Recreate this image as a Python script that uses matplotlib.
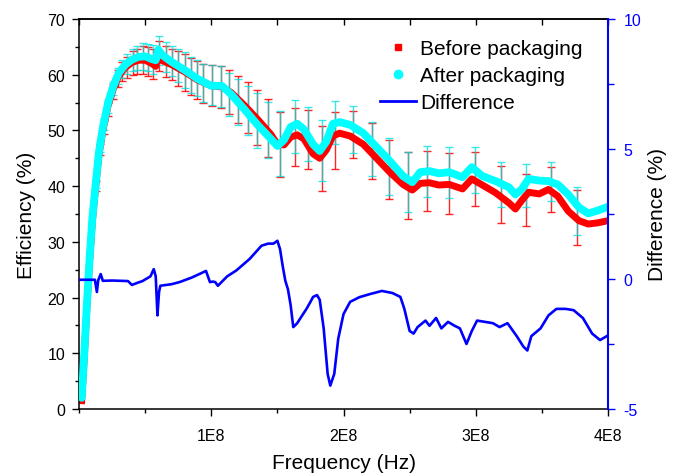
import numpy as np
import matplotlib
matplotlib.use('Agg')
import matplotlib.pyplot as plt
from matplotlib.lines import Line2D
from matplotlib.ticker import MultipleLocator

plt.rcParams['font.family'] = ['Liberation Sans', 'DejaVu Sans']
plt.rcParams['axes.unicode_minus'] = False

# efficiency curves, frequency in MHz
freq_mhz = [2, 4, 6, 8, 10, 12, 15, 18, 22, 26, 30, 35, 40, 45, 50, 55, 58, 60, 63, 70,
            80, 90, 100, 108, 115, 125, 135, 145, 150, 155, 160, 165, 170, 177, 182, 187,
            192, 197, 205, 215, 225, 235, 245, 252, 258, 265, 272, 280, 290, 297, 305,
            315, 325, 330, 335, 340, 348, 355, 362, 370, 378, 385, 392, 400]
eff_before = [1.5, 9.5, 18.5, 26.5, 33.5, 38.5, 45.5, 50.0, 54.5, 57.5, 59.8, 61.3, 62.2, 62.6,
              62.6, 62.0, 61.5, 63.5, 62.5, 61.8, 60.5, 59.0, 58.0, 57.8, 56.8, 54.5, 52.0,
              49.3, 47.5, 47.4, 48.8, 49.2, 48.5, 45.8, 45.0, 46.5, 49.0, 49.5, 49.0, 47.5,
              45.0, 42.5, 40.3, 39.3, 40.5, 40.6, 40.2, 40.3, 39.5, 41.3, 40.2, 38.8, 37.0,
              35.9, 37.5, 38.9, 38.6, 39.4, 38.2, 35.5, 33.8, 33.2, 33.4, 33.8]
eff_after = [2.0, 10.0, 19.0, 27.0, 34.0, 39.0, 46.0, 50.5, 55.0, 58.0, 60.3, 61.8, 62.7, 63.2,
             63.3, 62.8, 62.6, 64.5, 63.5, 62.3, 60.8, 59.2, 58.0, 58.0, 56.5, 53.8, 51.0,
             48.5, 47.2, 48.3, 50.6, 51.2, 50.2, 47.5, 46.3, 48.0, 51.2, 51.5, 51.0, 49.5,
             47.0, 44.5, 41.8, 40.7, 42.5, 42.7, 42.3, 42.5, 41.6, 43.4, 41.8, 40.9, 39.8,
             38.5, 39.5, 41.3, 41.0, 40.9, 40.3, 38.5, 36.2, 35.1, 35.6, 36.3]

# error bars (MHz, centre, half width)
bar_freq = [13, 16, 19, 22, 26, 29.5, 32.5, 36, 41, 44, 48, 52, 56, 60.5, 66, 70, 75, 80, 85,
            89, 94, 100.6, 107.4, 113.4, 120.2, 127.8, 134.6, 142.9, 152, 163.3, 173.2,
            183.7, 193.6, 207.2, 221.6, 234.4, 248.8, 263.2, 279.8, 299.4, 319.1, 338,
            356.9, 376.6]
bar_after_mid = [40.5, 47.0, 51.0, 54.3, 57.5, 59.8, 61.0, 61.9, 62.7, 63.0, 63.3, 63.1, 62.7,
                 64.3, 63.2, 62.4, 61.6, 60.8, 60.0, 59.4, 58.5, 58.15, 57.9, 56.45, 55.1,
                 53.6, 51.75, 50.05, 47.65, 50.75, 49.35, 46.4, 51.45, 50.2, 46.65, 43.5,
                 40.75, 42.65, 42.45, 42.9, 40.3, 40.15, 40.8, 35.5]
bar_after_err = [0.8, 0.9, 1.0, 1.1, 1.2, 1.4, 1.6, 1.8, 2.0, 2.2, 2.4, 2.5, 2.6, 2.6, 2.7,
                 2.7, 3.0, 3.2, 3.2, 3.3, 3.4, 3.55, 3.7, 3.85, 4.1, 4.4, 4.95, 5.05, 5.85,
                 4.75, 4.85, 5.5, 3.85, 4.2, 4.85, 5.1, 5.35, 4.55, 4.55, 4.1, 4.0, 3.85,
                 3.5, 4.3]
bar_before_mid = [40.0, 46.5, 50.5, 53.8, 57.0, 59.3, 60.5, 61.3, 62.1, 62.4, 62.6, 62.4, 61.9,
                  63.3, 62.4, 61.8, 61.1, 60.4, 59.7, 59.0, 58.4, 58.0, 57.8, 56.9, 55.6,
                  54.1, 52.3, 50.5, 47.5, 48.8, 48.4, 44.95, 48.2, 49.25, 46.3, 43.0, 40.1,
                  40.9, 40.5, 41.25, 38.5, 37.5, 39.4, 34.35]
bar_before_err = [0.9, 1.0, 1.1, 1.2, 1.4, 1.5, 1.7, 1.9, 2.1, 2.3, 2.5, 2.6, 2.7, 2.7, 2.8,
                  2.8, 3.1, 3.3, 3.3, 3.4, 3.5, 3.7, 3.8, 4.0, 4.2, 4.5, 5.0, 5.2, 5.8, 5.2,
                  5.3, 5.85, 5.1, 4.25, 5.0, 5.3, 6.0, 5.4, 5.5, 4.85, 5.1, 4.7, 4.0, 4.95]

# difference curve (right axis)
diff_freq = [1, 12, 13.5, 14.5, 16.4, 18, 25, 37, 40, 44, 48, 54, 56.5, 58, 59.3, 60.5, 61.5,
             70, 76, 85, 91, 96, 99, 101, 103, 105, 112, 119, 129, 138, 143, 147, 150, 152,
             154, 156, 158, 160, 162, 165, 168, 172, 175, 177, 180, 182, 185, 188, 190, 193,
             196, 200, 205, 212, 220, 229, 237, 243, 246, 250, 253, 256, 262, 265, 270, 274,
             279, 284, 288, 293, 297, 301, 313, 318, 324, 331, 336, 339, 342, 349, 355, 361,
             368, 374, 381, 388, 394, 399]
diff_val = [-0.03, -0.03, -0.5, -0.05, 0.19, -0.07, -0.06, -0.08, -0.23, -0.15, -0.08, 0.1,
            0.38, 0.1, -1.4, -0.5, -0.26, -0.2, -0.12, 0.05, 0.19, 0.31, -0.12, -0.1, -0.12,
            -0.26, 0.1, 0.33, 0.77, 1.28, 1.36, 1.36, 1.47, 1.15, 0.5, -0.07, -0.4, -1.0,
            -1.85, -1.7, -1.46, -1.15, -0.88, -0.69, -0.62, -0.8, -1.9, -3.65, -4.1, -3.65,
            -2.3, -1.35, -0.88, -0.7, -0.58, -0.46, -0.54, -0.69, -1.15, -2.0, -2.1, -1.85,
            -1.6, -1.8, -1.5, -1.9, -1.65, -1.8, -1.9, -2.5, -2.0, -1.6, -1.7, -1.85, -1.7,
            -2.2, -2.6, -2.75, -2.2, -1.9, -1.4, -1.15, -1.15, -1.2, -1.5, -2.1, -2.35, -2.2]

f = np.array(freq_mhz) * 1e6
fb = np.array(bar_freq) * 1e6
fd = np.array(diff_freq) * 1e6

fig = plt.figure(figsize=(6.86, 4.77), dpi=100)
ax = fig.add_axes([0.1152, 0.1405, 0.7711, 0.8176])

# error bars under the curves
ax.errorbar(fb, bar_before_mid, yerr=bar_before_err, fmt='none', ecolor='#ff0000',
            elinewidth=1.0, capsize=3.2, capthick=1.0, alpha=0.85, zorder=1)
ax.errorbar(fb, bar_after_mid, yerr=bar_after_err, fmt='none', ecolor='#00e0e0',
            elinewidth=1.0, capsize=3.2, capthick=1.0, alpha=0.75, zorder=1.5)
ax.plot(f, eff_before, color='#ff0000', lw=5.0, solid_joinstyle='round', zorder=2)
ax.plot(f, eff_after, color='#00ffff', lw=5.6, solid_joinstyle='round',
        solid_capstyle='round', zorder=3)

ax.set_xlim(0, 4e8)
ax.set_ylim(0, 70)
ax.set_xticks([1e8, 2e8, 3e8, 4e8])
ax.set_xticklabels(['1E8', '2E8', '3E8', '4E8'])
ax.xaxis.set_minor_locator(MultipleLocator(0.5e8))
ax.yaxis.set_major_locator(MultipleLocator(10))
ax.yaxis.set_minor_locator(MultipleLocator(5))
ax.tick_params(axis='both', which='major', direction='out', length=5, width=1,
               labelsize=11.5)
ax.tick_params(axis='x', which='major', pad=9)
ax.tick_params(axis='y', which='major', pad=5)
ax.tick_params(axis='both', which='minor', direction='out', length=3, width=1)
for s in ['left', 'bottom', 'top']:
    ax.spines[s].set_linewidth(1.1)
ax.spines['right'].set_visible(False)
ax.set_xlabel('Frequency (Hz)', fontsize=15, labelpad=7)
ax.set_ylabel('Efficiency (%)', fontsize=15, labelpad=8)

# top axis, ticks pointing in
top = ax.secondary_xaxis('top')
top.set_xticks([0.5e8 * i for i in range(9)])
top.tick_params(direction='in', length=4, width=1, labeltop=False)
top.spines['top'].set_linewidth(1.1)

# right axis for the difference
ax2 = ax.twinx()
ax2.plot(fd, diff_val, color='#0000ff', lw=1.9, zorder=4)
ax2.set_ylim(-5, 10)
ax2.yaxis.set_major_locator(MultipleLocator(5))
ax2.yaxis.set_minor_locator(MultipleLocator(2.5))
ax2.tick_params(axis='y', which='major', direction='out', length=5, width=1,
                colors='#0000ff', labelsize=11.5, pad=6)
ax2.tick_params(axis='y', which='minor', direction='out', length=4, width=1,
                colors='#0000ff')
for s in ['left', 'bottom', 'top']:
    ax2.spines[s].set_visible(False)
ax2.spines['right'].set_color('#0000ff')
ax2.spines['right'].set_linewidth(1.5)
ax2.set_ylabel('Difference (%)', fontsize=15, labelpad=5)

handles = [Line2D([], [], ls='', marker='s', color='#ff0000', ms=5),
           Line2D([], [], ls='', marker='o', color='#00ffff', ms=6),
           Line2D([], [], color='#0000ff', lw=2)]
ax2.legend(handles, ['Before packaging', 'After packaging', 'Difference'],
           loc='upper right', bbox_to_anchor=(0.98, 0.985), frameon=False, fontsize=15,
           handlelength=1.75, handletextpad=0.2, labelspacing=0.38, borderpad=0.2)

fig.savefig('out.png', dpi=100)
